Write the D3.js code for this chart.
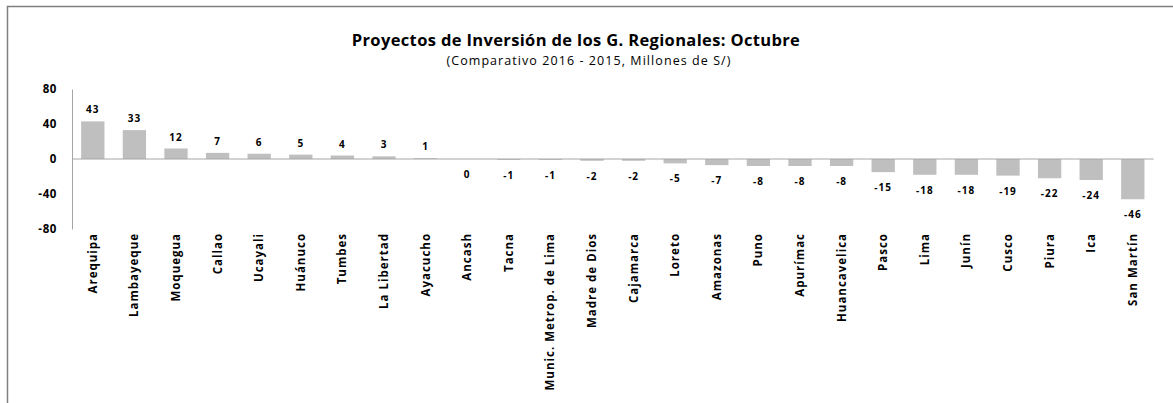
<!DOCTYPE html>
<html>
<head>
<meta charset="utf-8">
<script src="https://cdn.jsdelivr.net/npm/d3@7"></script>
<style>
  html, body { margin: 0; padding: 0; background: #fff; }
  svg { display: block; }
  text { font-family: "Open Sans", sans-serif; }
</style>
</head>
<body>
<svg id="chart" width="1173" height="403"></svg>
<script>
const categories = ["Arequipa","Lambayeque","Moquegua","Callao","Ucayali","Huánuco","Tumbes","La Libertad","Ayacucho","Ancash","Tacna","Munic. Metrop. de Lima","Madre de Dios","Cajamarca","Loreto","Amazonas","Puno","Apurímac","Huancavelica","Pasco","Lima","Junín","Cusco","Piura","Ica","San Martín"];
const values = [43,33,12,7,6,5,4,3,1,0,-1,-1,-2,-2,-5,-7,-8,-8,-8,-15,-18,-18,-19,-22,-24,-46];
const yTicks = [80,40,0,-40,-80];
const title = "Proyectos de Inversión de los G. Regionales: Octubre";
const subtitle = "(Comparativo 2016 - 2015, Millones de S/)";

(function () {
const svg = d3.select("#chart");
const W = 1173, H = 403;
const FF = "'Open Sans', sans-serif";
const fmt = d => String(d); // plain hyphen-minus, as in the reference

// outer frame
svg.append("rect").attr("x", 7.5).attr("y", 6.5).attr("width", W + 20).attr("height", H + 20)
  .attr("fill", "#fff").attr("stroke", "#7f7f7f").attr("stroke-width", 1.5);

const pLeft = 72, pRight = 1153.6, pTop = 89, pBottom = 229;
const x = d3.scaleBand().domain(categories).range([pLeft, pRight]).paddingInner(0.44).paddingOuter(0.22);
const y = d3.scaleLinear().domain([-80, 80]).range([pBottom, pTop]);

function fitSpacing(sel, target) {
  const n = sel.text().length;
  const w = sel.node().getComputedTextLength();
  const ls = (target - w) / Math.max(1, n - 1);
  sel.attr("letter-spacing", ls.toFixed(3));
}

// title
const t1 = svg.append("text").attr("x", 576).attr("y", 46).attr("text-anchor", "middle")
  .attr("font-weight", "bold").attr("font-size", 16.5).attr("fill", "#000").text(title);
fitSpacing(t1, 448);
const t2 = svg.append("text").attr("x", 589).attr("y", 65).attr("text-anchor", "middle")
  .attr("font-size", 12.5).attr("fill", "#000").text(subtitle);
fitSpacing(t2, 284);

// bars
svg.append("g").selectAll("rect").data(values).join("rect")
  .attr("x", (d, i) => x(categories[i]))
  .attr("width", x.bandwidth())
  .attr("y", d => y(Math.max(0, d)))
  .attr("height", d => Math.abs(y(d) - y(0)))
  .attr("fill", "#bfbfbf");

// y axis
const yAxis = d3.axisLeft(y).tickValues(yTicks).tickSize(0).tickPadding(15).tickFormat(fmt);
const gy = svg.append("g").attr("transform", `translate(${pLeft},0)`).call(yAxis);
gy.select(".domain").attr("stroke", "#a6a6a6").attr("stroke-width", 1);
gy.selectAll("text").attr("font-size", 11.5).attr("font-weight", "bold").attr("fill", "#000")
  .attr("letter-spacing", 0.6).style("font-family", FF);

// zero line
svg.append("line").attr("x1", pLeft).attr("x2", pRight).attr("y1", y(0)).attr("y2", y(0))
  .attr("stroke", "#a6a6a6").attr("stroke-width", 1);

// value labels
svg.append("g").selectAll("text").data(values).join("text")
  .attr("x", (d, i) => x(categories[i]) + x.bandwidth() / 2)
  .attr("y", d => d > 0 ? y(d) - 8 : y(d) + 19)
  .attr("text-anchor", "middle")
  .attr("font-size", 10).attr("font-weight", "bold").attr("fill", "#000")
  .attr("letter-spacing", 1)
  .text(fmt);

// category labels
const xAxis = d3.axisBottom(x).tickSize(0).tickPadding(0);
const gx = svg.append("g").attr("transform", `translate(0,${pBottom + 4})`).call(xAxis);
gx.select(".domain").remove();
gx.selectAll("text")
  .attr("transform", "rotate(-90)")
  .attr("text-anchor", "end")
  .attr("x", 0).attr("y", 0).attr("dy", "0.35em")
  .attr("font-size", 11.5).attr("font-weight", "bold").attr("fill", "#000")
  .attr("letter-spacing", 1)
  .style("font-family", FF);
})();
</script>
</body>
</html>
